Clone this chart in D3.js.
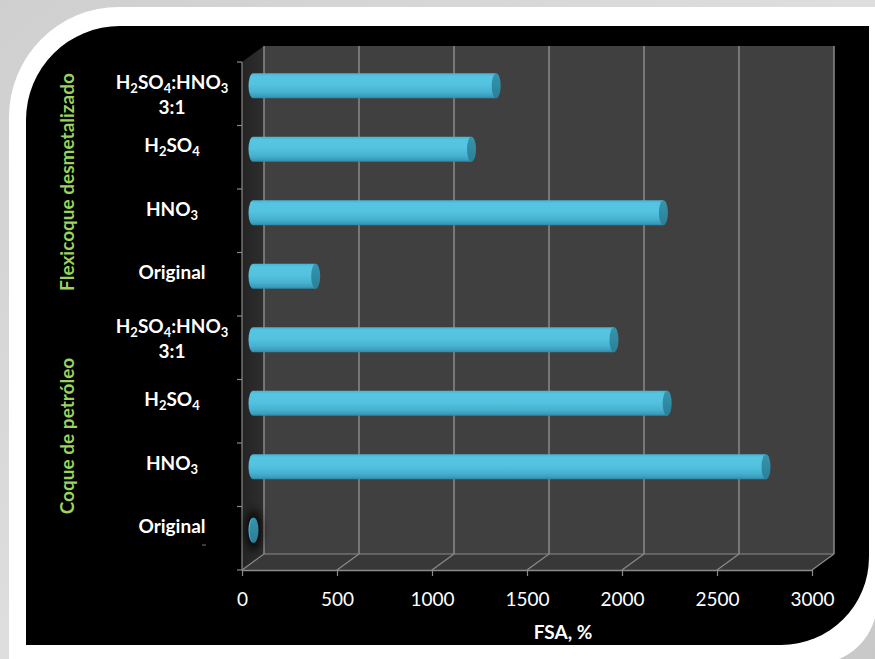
<!DOCTYPE html>
<html>
<head>
<meta charset="utf-8">
<script src="https://cdn.jsdelivr.net/npm/d3@7"></script>
<style>
  html, body { margin: 0; padding: 0; background: #d9d9d9; }
  svg { display: block; }
</style>
</head>
<body>
<svg id="chart" width="875" height="659"></svg>
<script>
// ---- data (bottom to top, as in the chart) ----
const categories = ["Original", "HNO3", "H2SO4", "H2SO4:HNO3\n3:1",
                    "Original", "HNO3", "H2SO4", "H2SO4:HNO3\n3:1"];
const groups = ["Coque de petróleo", "Flexicoque desmetalizado"];
const groupIndex = [0, 0, 0, 0, 1, 1, 1, 1];
const fsaValues = [5, 2700, 2180, 1900, 330, 2160, 1150, 1280];
const xTickValues = [0, 500, 1000, 1500, 2000, 2500, 3000];
const xAxisTitle = "FSA, %";

// ---- layout ----
const W = 875, H = 659;
const svg = d3.select("#chart");
const defs = svg.append("defs");

// background gradient
const bgGrad = defs.append("linearGradient").attr("id", "bgGrad")
  .attr("x1", 0).attr("y1", 0).attr("x2", 1).attr("y2", 1);
bgGrad.append("stop").attr("offset", "0%").attr("stop-color", "#cfcfcf");
bgGrad.append("stop").attr("offset", "50%").attr("stop-color", "#dedede");
bgGrad.append("stop").attr("offset", "100%").attr("stop-color", "#c8c8c8");
svg.append("rect").attr("width", W).attr("height", H).attr("fill", "url(#bgGrad)");

// white frame
const fr = 110, fx = 9, fy = 7, fr2 = 62, fR = 877, fB = 664;
svg.append("path")
  .attr("d", `M${fx},${fy + fr} A${fr},${fr} 0 0 1 ${fx + fr},${fy} L${fR},${fy} L${fR},${fB - fr2} A${fr2},${fr2} 0 0 1 ${fR - fr2},${fB} L${fx},${fB} Z`)
  .attr("fill", "#ffffff");

// black panel
const pL = 26, pT = 26, pR = 869, pB = 645, r1 = 94, r2 = 88;
svg.append("path")
  .attr("d", `M${pL},${pT + r1} A${r1},${r1} 0 0 1 ${pL + r1},${pT} L${pR},${pT} L${pR},${pB - r2} A${r2},${r2} 0 0 1 ${pR - r2},${pB} L${pL},${pB} Z`)
  .attr("fill", "#000000");

// scales
const x = d3.scaleLinear().domain([0, 3000]).range([242, 812]);
const y = d3.scaleBand().domain(d3.range(categories.length)).range([570, 62]).padding(0);
const depthX = 22, depthY = -16;
const yTop = y.range()[1], yBot = y.range()[0];
const x0 = x.range()[0], x1 = x.range()[1];
const gridColor = "#8a8a8a";

// side wall
const sideGrad = defs.append("linearGradient").attr("id", "sideGrad")
  .attr("x1", 0).attr("y1", 0).attr("x2", 1).attr("y2", 0);
sideGrad.append("stop").attr("offset", "0%").attr("stop-color", "#242424");
sideGrad.append("stop").attr("offset", "100%").attr("stop-color", "#2e2e2e");
svg.append("path")
  .attr("d", `M${x0},${yTop} L${x0 + depthX},${yTop + depthY} L${x0 + depthX},${yBot + depthY} L${x0},${yBot} Z`)
  .attr("fill", "url(#sideGrad)");

// back wall
svg.append("rect")
  .attr("x", x0 + depthX).attr("y", yTop + depthY)
  .attr("width", x1 - x0).attr("height", yBot - yTop)
  .attr("fill", "#404040");

// floor
svg.append("path")
  .attr("d", `M${x0},${yBot} L${x0 + depthX},${yBot + depthY} L${x1 + depthX},${yBot + depthY} L${x1},${yBot} Z`)
  .attr("fill", "#383838");

// gridlines on back wall and floor
const grid = svg.append("g");
grid.selectAll("line.v").data(xTickValues).join("line")
  .attr("x1", d => x(d) + depthX).attr("x2", d => x(d) + depthX)
  .attr("y1", yTop + depthY).attr("y2", yBot + depthY)
  .attr("stroke", gridColor).attr("stroke-width", 1.5);
grid.selectAll("line.f").data(xTickValues).join("line")
  .attr("x1", d => x(d)).attr("x2", d => x(d) + depthX)
  .attr("y1", yBot).attr("y2", yBot + depthY)
  .attr("stroke", gridColor).attr("stroke-width", 1.2);
grid.append("line")
  .attr("x1", x0 + depthX).attr("x2", x1 + depthX)
  .attr("y1", yBot + depthY).attr("y2", yBot + depthY)
  .attr("stroke", gridColor).attr("stroke-width", 1.2);

// x axis
const xAxis = d3.axisBottom(x).tickValues(xTickValues).tickFormat(d3.format("d"))
  .tickSize(6).tickSizeOuter(0).tickPadding(17);
const gx = svg.append("g").attr("transform", `translate(0,${yBot})`).call(xAxis);
gx.select(".domain").attr("stroke", gridColor).attr("stroke-width", 1.5);
gx.selectAll(".tick line").attr("stroke", gridColor).attr("stroke-width", 1.2);
gx.selectAll(".tick text")
  .attr("fill", "#ffffff")
  .style("font-family", "Lato, 'Open Sans', sans-serif")
  .style("font-size", "19px");

svg.append("text")
  .attr("x", (x0 + x1) / 2 + 36).attr("y", 639)
  .attr("text-anchor", "middle")
  .attr("fill", "#ffffff")
  .style("font-family", "Lato, 'Open Sans', sans-serif")
  .style("font-size", "19px").style("font-weight", "bold")
  .text(xAxisTitle);

// y axis (front left edge)
svg.append("line")
  .attr("x1", x0).attr("x2", x0).attr("y1", yTop).attr("y2", yBot)
  .attr("stroke", gridColor).attr("stroke-width", 1.2);
const boundaries = d3.range(categories.length + 1).map(i => i < categories.length ? y(i) + y.bandwidth() : y(i - 1));
svg.selectAll("line.ytick").data(boundaries).join("line")
  .attr("x1", x0 - 5).attr("x2", x0)
  .attr("y1", d => d).attr("y2", d => d)
  .attr("stroke", gridColor).attr("stroke-width", 1.2);

// cylinders
const barGrad = defs.append("linearGradient").attr("id", "barGrad")
  .attr("x1", 0).attr("y1", 0).attr("x2", 0).attr("y2", 1);
[["0%", "#46b4d2"], ["12%", "#55c5e2"], ["45%", "#53c3e0"], ["75%", "#47b2d1"], ["92%", "#3a9dbc"], ["100%", "#2e86a2"]]
  .forEach(([o, c]) => barGrad.append("stop").attr("offset", o).attr("stop-color", c));
const capGrad = defs.append("linearGradient").attr("id", "capGrad")
  .attr("x1", 0).attr("y1", 0).attr("x2", 0).attr("y2", 1);
capGrad.append("stop").attr("offset", "0%").attr("stop-color", "#3695ad");
capGrad.append("stop").attr("offset", "100%").attr("stop-color", "#2a7f97");
const blur = defs.append("filter").attr("id", "blur").attr("x", "-100%").attr("y", "-100%").attr("width", "300%").attr("height", "300%");
blur.append("feGaussianBlur").attr("stdDeviation", 4);

const halfH = 12.5, capRx = 4.5;
const xm = v => x(v) + depthX / 2;
const yc = i => y(i) + y.bandwidth() / 2 + depthY / 2;

const bars = svg.append("g").selectAll("g.bar").data(fsaValues).join("g");
bars.each(function (d, i) {
  const g = d3.select(this);
  if (d < 50) {
    g.append("ellipse")
      .attr("cx", xm(d)).attr("cy", yc(i))
      .attr("rx", 8).attr("ry", 20).attr("fill", "#000").attr("opacity", 0.8)
      .attr("filter", "url(#blur)");
  }
  const a = xm(0), b = xm(d), c = yc(i);
  g.append("path")
    .attr("d", `M${a},${c - halfH} L${b},${c - halfH} L${b},${c + halfH} L${a},${c + halfH} A${capRx},${halfH} 0 0 1 ${a},${c - halfH} Z`)
    .attr("fill", "url(#barGrad)");
  g.append("ellipse")
    .attr("cx", b).attr("cy", c)
    .attr("rx", capRx).attr("ry", halfH)
    .attr("fill", "url(#capGrad)");
});

// category labels
const labelFont = "Lato, 'Open Sans', sans-serif";
function addChem(textSel, str) {
  // digits that follow a chemical symbol become subscripts
  const parts = str.match(/[A-Za-z]\d+|[^\d]+?(?=[A-Za-z]\d)|[^]+?$/g) || [str];
  let i = 0, sub = false;
  const isSubAt = k => /\d/.test(str[k]) && k > 0 && (/[A-Za-z]/.test(str[k - 1]) || (/\d/.test(str[k - 1]) && isSubAt(k - 1)));
  while (i < str.length) {
    const s = isSubAt(i);
    let j = i;
    while (j < str.length && isSubAt(j) === s) j++;
    const t = textSel.append("tspan").text(str.slice(i, j));
    if (s) { t.attr("dy", 4).style("font-size", "13px"); sub = true; }
    else if (sub) { t.attr("dy", -4); sub = false; }
    i = j;
  }
}
const labelShift = i => (i === 3 ? -15 : -5);
categories.forEach((cat, i) => {
  const lines = cat.split("\n");
  const cy = y(i) + y.bandwidth() / 2;
  lines.forEach((ln, k) => {
    const t = svg.append("text")
      .attr("x", 172).attr("y", cy + (lines.length > 1 ? labelShift(i) + k * 25 : -5))
      .attr("text-anchor", "middle")
      .attr("fill", "#ffffff")
      .style("font-family", labelFont).style("font-size", "19px").style("font-weight", "bold");
    addChem(t, ln);
  });
});

// group labels
groups.forEach((g, gi) => {
  const idx = groupIndex.map((v, i) => v === gi ? i : -1).filter(v => v >= 0);
  const top = d3.min(idx.map(i => y(i))), bot = d3.max(idx.map(i => y(i) + y.bandwidth()));
  svg.append("text")
    .attr("transform", `translate(74,${(top + bot) / 2 - 7}) rotate(-90)`)
    .attr("text-anchor", "middle")
    .attr("fill", "#9bd35c")
    .style("font-family", labelFont).style("font-size", "19px").style("font-weight", "bold")
    .text(g);
});

// small dash artifact below the last label
svg.append("line").attr("x1", 202).attr("x2", 206).attr("y1", 545).attr("y2", 545)
  .attr("stroke", "#777").attr("stroke-width", 1);
</script>
</body>
</html>
